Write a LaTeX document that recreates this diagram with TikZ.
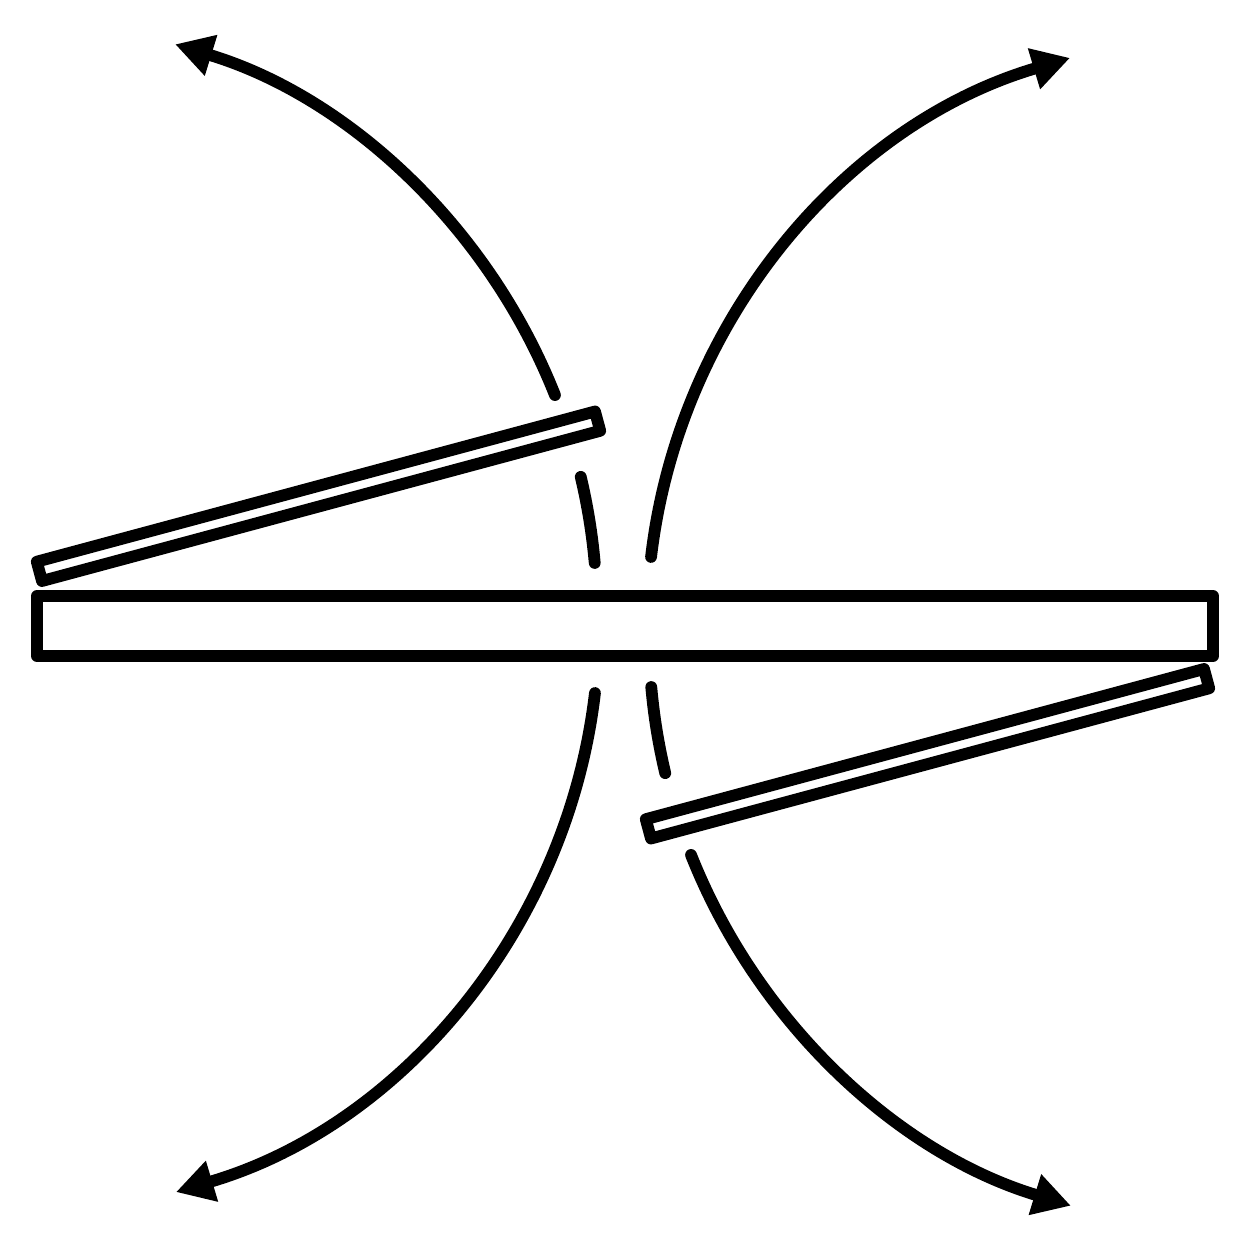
\documentclass[tikz,border=0pt]{standalone}
\usetikzlibrary{arrows.meta}
\begin{document}
\begin{tikzpicture}[x=0.01cm,y=0.01cm,
  outline/.style={line width=0.118cm,line cap=round,line join=round},
  flow/.style={outline},
  flowtip/.style={outline,-{Triangle[length=0.37cm,width=0.43cm,line width=0pt]}}]
\useasboundingbox (0,0) rectangle (1250,1250);
% centres of the arcs
\coordinate (ctl) at (0,635);
\coordinate (ctr) at (1240,624);
\coordinate (cbl) at (6,626);
\coordinate (cbr) at (1246,615);
% main bar
\draw[outline] (37,654) rectangle (1213,594);
% upper plate
\draw[outline] (42,669) -- (600.2,819.2) -- (595.0,838.5) -- (36.8,688.3) -- cycle;
% lower plate
\draw[outline] (1204,581) -- (645.8,430.8) -- (651.0,411.5) -- (1209.2,561.7) -- cycle;
% top-left arrow
\draw[flowtip] (ctl) ++(21.62:597) arc[start angle=21.62,end angle=72.88,radius=597];
\draw[flow] (ctl) ++(13.38:597) arc[start angle=13.38,end angle=5.0,radius=597];
% top-right arrow
\draw[flowtip] (ctr) ++(173.31:593) arc[start angle=173.31,end angle=106.72,radius=593];
% bottom-left arrow
\draw[flowtip] (cbl) ++(-6.69:593) arc[start angle=-6.69,end angle=-73.28,radius=593];
% bottom-right arrow
\draw[flowtip] (cbr) ++(-158.38:597) arc[start angle=-158.38,end angle=-107.12,radius=597];
\draw[flow] (cbr) ++(-166.62:597) arc[start angle=-166.62,end angle=-175.0,radius=597];
\end{tikzpicture}
\end{document}
